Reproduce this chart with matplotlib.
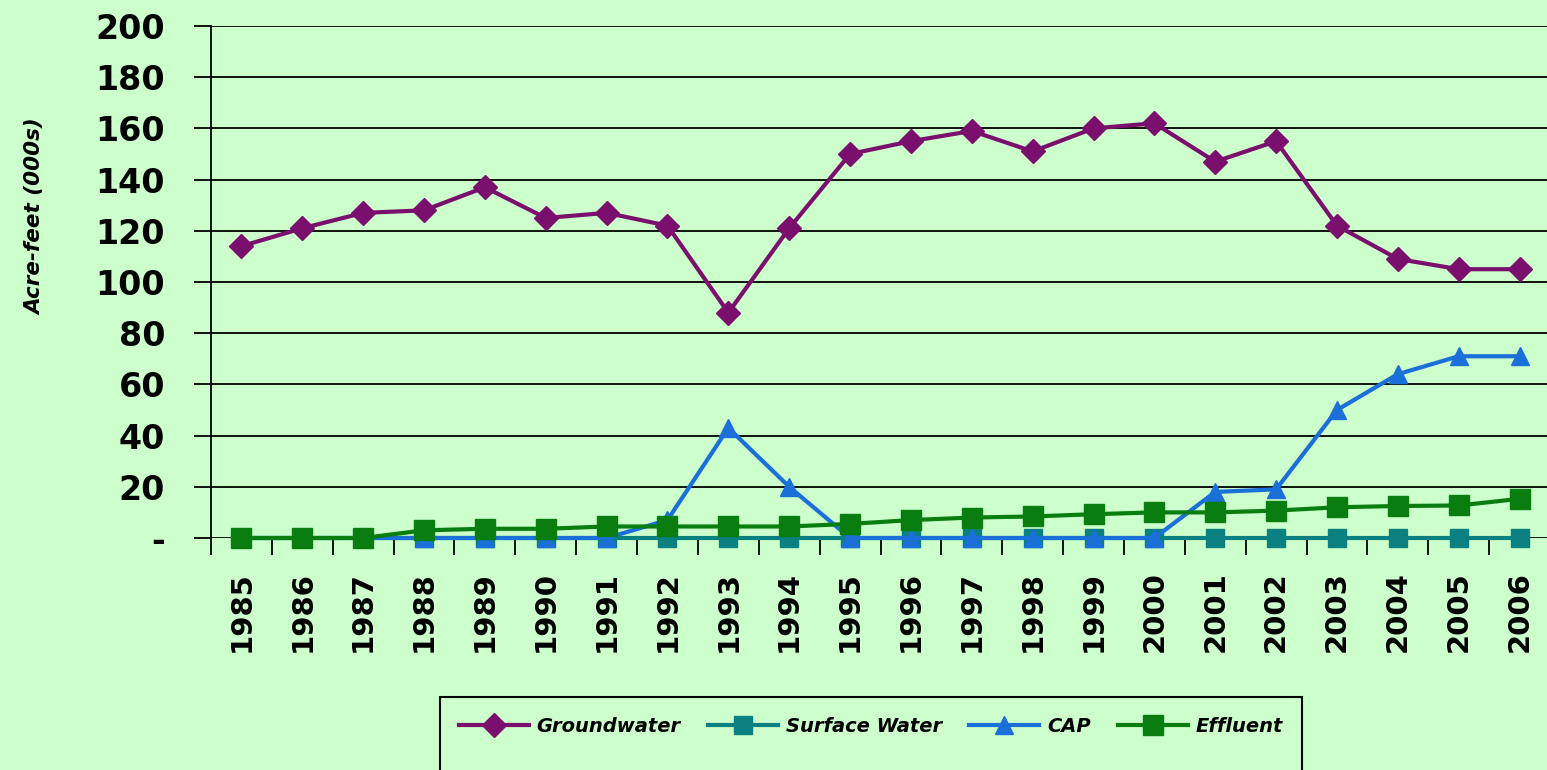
import matplotlib
matplotlib.use("Agg")
import matplotlib.pyplot as plt
from matplotlib.patches import Rectangle

# data (thousands of acre-feet)
years = [str(y) for y in range(1985, 2007)]
groundwater = [114, 121, 127, 128, 137, 125, 127, 122, 88, 121, 150, 155, 159, 151,
               160, 162, 147, 155, 122, 109, 105, 105]
surface_water = [0] * 22
cap = [0, 0, 0, 0, 0, 0, 0, 7, 43, 20, 0, 0, 0, 0, 0, 0, 18, 19, 50, 64, 71, 71]
effluent = [0, 0, 0, 3, 3.6, 3.6, 4.5, 4.5, 4.5, 4.5, 5.5, 7, 8, 8.4, 9.3, 10,
            10, 10.7, 12, 12.5, 12.7, 15.3]
y_ticks = [0, 20, 40, 60, 80, 100, 120, 140, 160, 180, 200]
y_tick_labels = ['-'] + [str(v) for v in y_ticks[1:]]

bg = '#CCFFCC'
W, H = 1547, 770
fig = plt.figure(figsize=(W / 100, H / 100), dpi=100, facecolor=bg)
ax = fig.add_axes([211 / W, 1 - 538 / H, 1339 / W, 512 / H], facecolor=bg)

x = list(range(len(years)))
series = [
    (groundwater, 'Groundwater', '#7B0F6E', 'D', 12),
    (surface_water, 'Surface Water', '#0A8080', 's', 13),
    (cap, 'CAP', '#1B6FD8', '^', 13),
    (effluent, 'Effluent', '#0A7D10', 's', 14),
]
for i, (vals, name, col, mk, ms) in enumerate(series):
    ax.plot(x, vals, color=col, lw=3, marker=mk, ms=ms, label=name,
            clip_on=False, zorder=3 + i)

ax.set_xlim(-0.5, len(years) - 0.5)
ax.set_ylim(0, 200)
ax.set_yticks(y_ticks)
ax.set_yticklabels(y_tick_labels, fontsize=24, fontweight='bold')
ax.yaxis.grid(True, color='black', lw=1.3, zorder=1)
ax.tick_params(axis='y', direction='out', length=12, width=1.3, pad=21)

# category ticks on boundaries, labels at centres
ax.set_xticks([v - 0.5 for v in x] + [len(years) - 0.5])
ax.set_xticklabels([])
ax.set_xticks(x, minor=True)
ax.set_xticklabels(years, minor=True, rotation=90, fontsize=21, fontweight='bold')
ax.tick_params(axis='x', which='major', direction='out', length=12, width=1.3)
ax.tick_params(axis='x', which='minor', length=0, pad=24)

for s in ['top', 'right', 'bottom']:
    ax.spines[s].set_visible(False)
ax.spines['left'].set_linewidth(1.3)

fig.text(35 / W, 1 - 217 / H, 'Acre-feet (000s)', rotation=90, ha='center',
         va='center', fontsize=15.5, style='italic', fontweight='bold')

# legend box runs off the bottom of the picture
fig.patches.append(Rectangle((440 / W, -0.05), 862 / W, 0.05 + 73 / H,
                             transform=fig.transFigure, facecolor=bg,
                             edgecolor='black', lw=1.5, zorder=0))
leg = fig.legend(loc='center', bbox_to_anchor=(871 / W, 1 - 726 / H), ncol=4,
                 frameon=False, handlelength=3.6, columnspacing=1.4,
                 handletextpad=0.4,
                 prop={'size': 14, 'weight': 'bold', 'style': 'italic'})

fig.savefig('out.png', dpi=100, facecolor=bg)
